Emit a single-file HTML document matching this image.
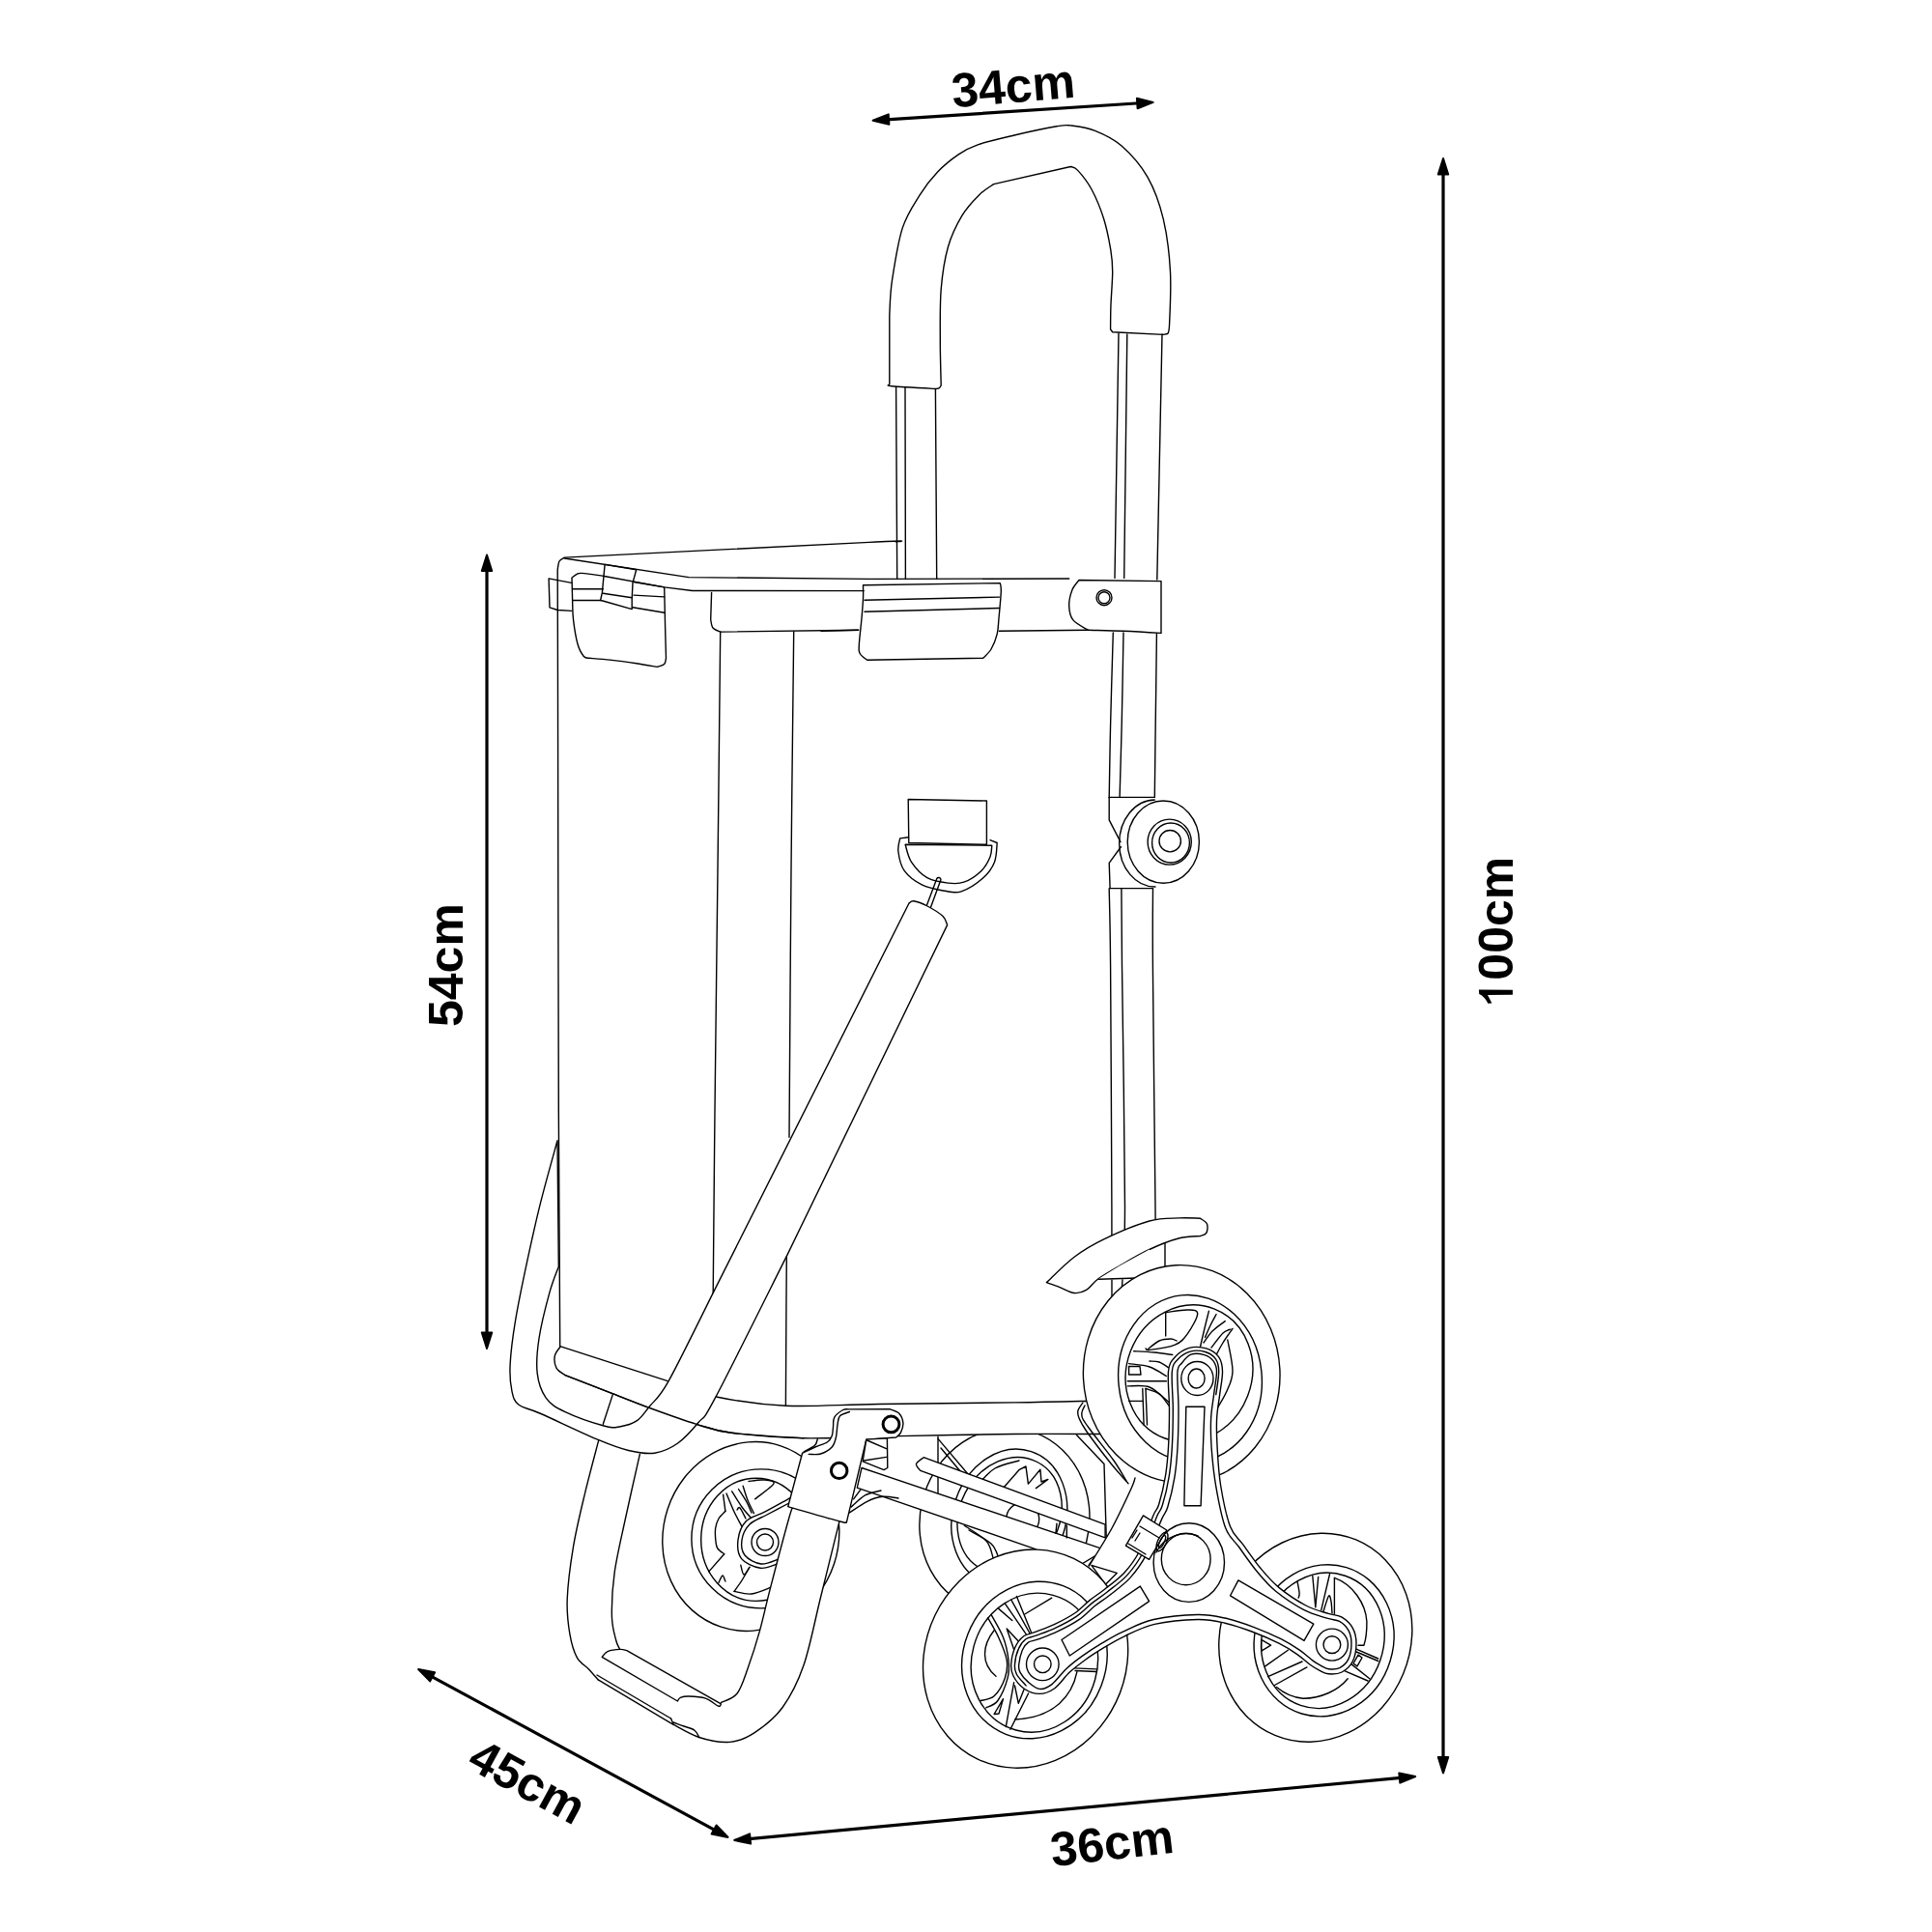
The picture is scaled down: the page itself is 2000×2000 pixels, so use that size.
<!DOCTYPE html>
<html><head><meta charset="utf-8"><style>
html,body{margin:0;padding:0;background:#fff;overflow:hidden;}
svg{display:block;}
text{font-family:"Liberation Sans",sans-serif;font-weight:bold;fill:#000;}
</style></head><body>
<svg width="2000" height="2000" viewBox="0 0 2000 2000" xmlns="http://www.w3.org/2000/svg">
<g stroke="#000" stroke-width="3.2" fill="none" stroke-linecap="round">
<line x1="913.6" y1="124.1" x2="1183.7" y2="106.5"/>
<line x1="1494.0" y1="174.0" x2="1494.0" y2="1825.4"/>
<line x1="504.0" y1="584.5" x2="504.0" y2="1386.0"/>
<line x1="441.9" y1="1732.8" x2="744.8" y2="1897.1"/>
<line x1="770.2" y1="1904.1" x2="1455.2" y2="1839.9"/>
</g>
<g fill="#000" stroke="#000" stroke-width="2" stroke-linejoin="round">
<path d="M903.6,124.7 L919.7,118.4 L920.4,128.8 Z"/><path d="M1193.7,105.9 L1177.6,112.2 L1176.9,101.8 Z"/>
<path d="M1494.0,164.0 L1499.2,180.5 L1488.8,180.5 Z"/><path d="M1494.0,1835.4 L1488.8,1818.9 L1499.2,1818.9 Z"/>
<path d="M504.0,574.5 L509.2,591.0 L498.8,591.0 Z"/><path d="M504.0,1396.0 L498.8,1379.5 L509.2,1379.5 Z"/>
<path d="M433.1,1728.0 L450.1,1731.3 L445.1,1740.4 Z"/><path d="M753.6,1901.9 L736.6,1898.6 L741.6,1889.5 Z"/>
<path d="M760.2,1905.0 L776.1,1898.3 L777.1,1908.6 Z"/><path d="M1465.2,1839.0 L1449.3,1845.7 L1448.3,1835.4 Z"/>
</g>

<text x="1049" y="106" font-size="50" text-anchor="middle" transform="rotate(-4.7 1049 90)">34cm</text>
<text x="1151" y="1925" font-size="50" text-anchor="middle" transform="rotate(-6.6 1151 1907)">36cm</text>
<text transform="translate(479.3,999.1) rotate(-90)" font-size="50" text-anchor="middle">54cm</text>
<text transform="translate(1565.9,964.6) rotate(-90)" x="77.8" font-size="50" text-anchor="end">00cm</text>
<path d="M1530.9,1024.5 L1565.9,1024.7 L1565.9,1029.7 L1540,1029.9 L1544.4,1038.5 L1540.3,1038.7 C1538.5,1034.5 1535,1030.5 1531.2,1028.9 Z" fill="#000" stroke="none"/>
<text transform="translate(546,1844.5) rotate(28.5)" font-size="50" text-anchor="middle" dy="17">45cm</text>

<g stroke="#000" stroke-width="1.4" fill="none" stroke-linejoin="round" stroke-linecap="round">
<path d="M920.8,398 L920.8,326.4 C921.2,320.4 921.2,305.3 923.5,290.2 C925.8,275.1 929.5,250.7 934.3,235.9 C939.1,221.1 946.5,211.1 952.5,201.4 C958.5,191.7 964,184.8 970.6,177.9 C977.2,171 985.4,164.5 992.3,159.8 C999.2,155.1 1002.6,153.1 1012.2,149.8 C1021.8,146.5 1036.4,143.2 1050,140 C1063.6,136.8 1084.1,132.5 1093.8,130.8 C1103.5,129.1 1101.7,129.2 1108.3,129.9 C1114.9,130.7 1124.8,131.8 1133.6,135.3 C1142.3,138.8 1151.7,142.7 1160.8,150.7 C1169.9,158.7 1180.8,170.6 1188,183.3 C1195.2,196 1200.4,210.5 1204.3,226.8 C1208.2,243.1 1210.5,263.1 1211.5,281.2 C1212.5,299.3 1211,324.8 1210.6,335.5 C1210.1,346.2 1209.1,343.8 1208.8,345.5 L1204.3,346.4 L1151.7,343.7 L1149.6,341 C1149.6,337.1 1149.6,327.4 1149.9,317.4 C1150.2,307.4 1151.7,290.9 1151.7,281.2 C1151.7,271.5 1151.4,268.5 1149.9,259.4 C1148.4,250.3 1146,237.4 1142.7,226.8 C1139.4,216.2 1134.5,204.4 1130,196 C1125.5,187.6 1119.1,180 1115.5,176.1 C1111.9,172.2 1109.5,173.1 1108.3,172.5 L1028.6,190.6 C1026.2,192.4 1019.5,196 1014,201.4 C1008.5,206.8 1001.3,214.1 995.9,223.2 C990.5,232.3 985,243.1 981.4,255.8 C977.8,268.5 975.6,283 974.2,299.3 C972.9,315.6 973.3,337 973.3,353.6 C973.3,370.2 974.1,391.3 974.2,398.9 C973.9,399.3 973.3,401 972.4,401.6 C971.5,402.2 969.4,402.4 968.8,402.5 C961.2,402.1 931.5,400.6 923.5,399.8 C915.5,399.1 921.2,398.3 920.8,398 Z"/>
<path d="M927.6,400.5 L928.7,599"/>
<path d="M937,400.7 L937.4,599"/>
<path d="M968.4,402.8 L969.7,599"/>
<path d="M1158,345 L1154,598.4"/>
<path d="M1166.8,346 L1163.7,598.4"/>
<path d="M1203,346 L1197.8,600"/>
<path d="M1152.3,655 C1151.8,670.8 1150.3,721.6 1149.6,750 C1148.9,778.4 1148.4,812.8 1148.2,825.4"/>
<path d="M1163,655 C1162.7,670.8 1161.9,721.6 1161.2,750 C1160.5,778.4 1159.4,812.8 1159.1,825.4"/>
<path d="M1197.4,656 C1197.2,671.7 1196.6,721.8 1196.2,750 C1195.8,778.2 1195.5,812.8 1195.3,825.4"/>
<path d="M927.6,560.8 C923,560.9 957.2,558.7 900,561.4 C842.8,564.1 637,574.5 584.4,577.1 C583.5,577.8 580.2,578.9 579,581 C577.8,583.1 577.5,588.5 577.2,590 C577.2,611.7 577.3,626.7 577.5,720 C577.7,813.3 577.9,1037.7 578.3,1150 C578.7,1262.3 579.5,1353.1 579.7,1393.7"/>
<path d="M584.4,578 L713,597.6 L900,599.4 L1106.7,599"/>
<path d="M656,602.5 L687.7,607.9 L716.7,611.5 L894.2,611.6"/>
<path d="M850,653.3 L888.3,652.3"/>
<path d="M745.7,654.1 L888.8,652.3"/>
<path d="M1034.3,653.3 L1126.4,652.3"/>
<path d="M736.6,613.4 L735.7,641.4 C736.1,642.8 736.3,647.9 738,650 C739.7,652.1 744.4,653.4 745.7,654.1"/>
<path d="M745.7,654.1 C745.2,695.1 744,817.4 743,900 C742,982.6 740.8,1076.6 740,1150 C739.2,1223.4 738.5,1308.5 738.2,1340.2"/>
<path d="M821.7,654 C821.2,695 819.8,812.8 819,900 C818.2,987.2 817.3,1131 817,1177.2"/>
<path d="M814.3,1300.4 C814.2,1313.7 813.9,1354.2 813.8,1380 C813.6,1405.8 813.5,1442.7 813.4,1455.2"/>
<path d="M591.7,603.4 L568.1,598.9 L569,628.8 L577.2,631.5 L591.7,632.4"/>
<path d="M624.3,596.2 C620.7,595.7 607,593.7 602.5,593.4 C598,593.1 598.9,593.5 597.1,594.3 C595.4,595.1 592.9,597.4 592,598 C592.1,601.9 592.4,614.3 592.6,621.5 C592.9,628.7 592.6,633.9 593.5,641.4 C594.4,648.9 596.2,660.4 598,666.8 C599.8,673.1 602.3,677.1 604.3,679.5 C606.3,681.9 608.9,681 609.8,681.3 C613.4,681.6 623.4,682.2 631.5,683.1 C639.6,684 650.6,685.5 658.7,686.7 C666.9,687.9 676.8,689.8 680.4,690.4 C681.6,689.9 686.2,689.1 687.7,687.6 C689.2,686.1 689.2,682.3 689.5,681.3 C689.4,675.9 688.9,660.9 688.6,648.7 C688.3,636.5 687.9,614.7 687.7,607.9 Z"/>
<path d="M592.6,609.7 L624.3,609.7"/>
<path d="M592.6,621.5 L621.6,621.5"/>
<path d="M656,616.1 L687.7,617.9"/>
<path d="M655,628.8 L687.7,634.2"/>
<path d="M626.1,584.4 L658.7,589.8 L655,603.4 L654.2,620 L654.2,630.6 L624,622 L621.6,621.5 L623.4,613.4 Z"/>
<path d="M624.3,614.3 L654.2,618.8"/>
<path d="M893.5,605.7 L1035.3,603.6 C1035.5,605 1036.5,605.9 1036.3,612 C1036.1,618.1 1034.7,632.6 1034,640 C1033.3,647.4 1033.5,651.1 1032.2,656.4 C1030.9,661.7 1028.4,667.9 1026,672 C1023.6,676.1 1019.1,679.8 1017.7,681.3 L897.6,683.3 C896.4,682.2 891.9,679.5 890.5,677 C889.1,674.5 889,674.2 889.3,668 C889.5,661.8 891.3,648 892,640 C892.7,632 893.2,625.7 893.5,620 C893.8,614.3 893.5,608.1 893.5,605.7 Z"/>
<path d="M895,621.2 L1034.5,618.1"/>
<path d="M895,633.2 L1034.5,629.5"/>
<path d="M1202,601.6 L1117,600.5 C1115.8,602.2 1111.5,606.4 1109.8,610.9 C1108.1,615.4 1106.5,622.2 1106.7,627.4 C1106.9,632.6 1107.6,637.8 1110.9,641.9 C1114.2,646 1123.8,650.6 1126.4,652.3 C1132.4,652.5 1150,652.8 1162.6,653.3 C1175.2,653.8 1195.4,655 1202,655.4 L1202,601.6"/>
<ellipse cx="1143" cy="618.7" rx="8" ry="8"/>
<ellipse cx="1143" cy="618.7" rx="6" ry="6"/>
<path d="M940.2,827.5 L1021.4,829 L1021.4,874.3 L940.8,872.5 Z"/>
<path d="M940.2,866.7 L931.7,867.9 C931.4,870.2 929.1,875.9 929.9,881.5 C930.6,887.1 932.1,895.7 936.2,901.4 C940.3,907.1 947.3,912.4 954.3,915.9 C961.2,919.4 971.1,921.1 977.9,922.3 C984.7,923.4 988.5,925.1 995.1,922.8 C1001.8,920.5 1012.1,913.8 1017.8,908.7 C1023.5,903.6 1027.1,898.4 1029.5,892.4 C1031.9,886.4 1031.8,875.8 1032.2,872.5 L1025,869.7"/>
<path d="M937.1,874.3 L1026.8,875.2 C1026.5,877.2 1026.8,882.6 1025,887 C1023.2,891.4 1020.4,897 1015.9,901.4 C1011.4,905.8 1003.5,911.1 997.8,913.2 C992.1,915.3 987.8,914.9 981.5,914.1 C975.2,913.4 966.1,912.3 959.8,908.7 C953.5,905.1 947.3,898.1 943.5,892.4 C939.7,886.7 938.2,877.3 937.1,874.3 Z"/>
<path d="M958.9,938.6 L969.8,909.5 A2.3,2.3 0 0 1 974,910.5 L963.4,939.5"/>
<path d="M1148.2,825.4 L1194.4,825.4"/>
<path d="M1148.2,825.4 L1148.2,848.9 L1160,871.6"/>
<path d="M1160.5,876.5 L1148.2,893.3 L1149.1,919.6"/>
<path d="M1149.1,919.6 L1193.5,919.6"/>
<ellipse cx="1204.3" cy="871.6" rx="37.1" ry="42.6"/>
<path d="M1195.3,828 A37,45 0 0 0 1196,918"/>
<ellipse cx="1210.7" cy="871.6" rx="22.6" ry="23.5"/>
<ellipse cx="1212" cy="872.5" rx="19.4" ry="20.5"/>
<ellipse cx="1211.2" cy="870.7" rx="11.2" ry="11.2"/>
<path d="M1148.2,919.6 C1148.4,933 1149.1,944.9 1149.6,1000 C1150,1055.1 1150.7,1191.7 1150.9,1250 C1151.1,1308.3 1151,1333.3 1151,1350"/>
<path d="M1160.9,919.6 C1161,933 1160.9,944.9 1161.5,1000 C1162.1,1055.1 1164.6,1193.3 1164.5,1250 C1164.4,1306.7 1161.6,1325 1161,1340"/>
<path d="M1193.5,919.6 C1193.5,933 1193,944.9 1193.4,1000 C1193.8,1055.1 1195.6,1206.3 1196,1250 C1196.4,1293.7 1196,1260 1196,1262"/>
<path d="M1206,1280 L1206,1315"/>
<path d="M1083.4,1327.6 C1088.2,1323.2 1102.1,1308.7 1112.1,1301.2 C1122.1,1293.7 1130.2,1288.8 1143.2,1282.6 C1156.2,1276.4 1176.9,1267.6 1189.8,1264 C1202.7,1260.4 1212,1261.4 1220.8,1260.9 C1229.6,1260.4 1238.9,1261.2 1242.5,1261.2 C1243.7,1262.2 1248.5,1264.6 1249.5,1267.1 C1250.5,1269.6 1250,1274.3 1248.8,1276.4 C1247.6,1278.5 1243.5,1279 1242.5,1279.5 C1238.9,1279.9 1229.6,1279.5 1220.8,1281.8 C1212,1284.1 1200.1,1288.7 1189.8,1293.5 C1179.5,1298.3 1167.5,1305.5 1158.7,1310.6 C1149.9,1315.6 1142.7,1319.7 1137,1323.8 C1131.3,1327.9 1128.7,1333 1124.5,1335.4 C1120.3,1337.9 1116.8,1339 1112.1,1338.5 C1107.4,1338 1101.4,1334.1 1096.6,1332.3 C1091.8,1330.5 1085.6,1328.4 1083.4,1327.6 Z" fill="#fff"/>
<path d="M1137,1324 L1158.7,1310.6 L1189.8,1293.5 L1205,1323 L1137,1325 Z" fill="#fff" stroke="none"/>
<path d="M1137.5,1324.3 L1177.6,1323"/>
<ellipse cx="1039.9" cy="1574.3" rx="87.5" ry="96.6" transform="rotate(14 1039.9 1574.3)" fill="#fff"/>
<ellipse cx="1044.8" cy="1570.9" rx="58.4" ry="72" transform="rotate(18.4 1044.8 1570.9)"/>
<ellipse cx="1045.1" cy="1568.9" rx="51.6" ry="62.4" transform="rotate(27.4 1045.1 1568.9)"/>
<ellipse cx="1058.7" cy="1572.5" rx="17" ry="17"/>
<path d="M1039.3,1539.5 L1055.3,1521.3 L1062,1518 L1064.4,1536.1 L1076.9,1521.3 L1078,1534 L1084.9,1531.5 L1072.4,1540.6"/>
<path d="M1012,1537 C1015,1534.2 1022.8,1524.2 1030,1520 C1037.2,1515.8 1050.8,1513.3 1055,1512"/>
<path d="M998.3,1579.3 C1002.1,1582 1016.1,1589.8 1021.1,1595.3 C1026,1600.8 1026.8,1609.6 1028,1612.4"/>
<path d="M1003,1584 C1006.8,1586.3 1020.8,1593.2 1026,1598 C1031.2,1602.8 1032.7,1610.5 1034,1613"/>
<path d="M971,1487.1 L971,1545.2"/>
<path d="M971,1489.4 L1002.9,1527"/>
<path d="M974,1499 L994,1523"/>
<path d="M1114.5,1485.4 L1143,1515.6 L1145.3,1594.1 L1138.4,1604.4 L1127,1620.3"/>
<ellipse cx="777.3" cy="1590.5" rx="90.7" ry="98.7" transform="rotate(18.3 777.3 1590.5)" fill="#fff"/>
<ellipse cx="787.9" cy="1592.9" rx="72" ry="72"/>
<ellipse cx="782.8" cy="1593.8" rx="57.1" ry="63.6"/>
<path d="M748.6,1547.2 L750.9,1564.3"/>
<path d="M750.9,1564.3 C749.8,1565.6 745.7,1569 744,1572 C742.3,1575 741.1,1578.5 740.6,1582.5 C740.1,1586.5 740.6,1592.6 741,1596 C741.4,1599.4 741.4,1600.9 742.9,1603 C744.4,1605.1 748.6,1607.8 749.7,1608.7"/>
<path d="M749.7,1608.7 L733.8,1626.9"/>
<path d="M752,1546.1 C753.3,1549.2 757.3,1559.3 760,1565 C762.7,1570.7 766.7,1577.7 768,1580.2"/>
<path d="M757.7,1543.8 C759.4,1546.5 764.8,1555.5 768,1560 C771.2,1564.5 775.6,1569.2 777.1,1571.1"/>
<path d="M764.5,1541.5 C765.9,1543.8 770.8,1550.9 773,1555 C775.2,1559.1 777.2,1564.2 778,1566"/>
<path d="M769.1,1538.1 C769.9,1540.6 772.1,1548.2 774,1553 C775.9,1557.8 779.4,1564.3 780.5,1566.6"/>
<path d="M775,1533.5 C777.5,1533.2 785.7,1531.6 790,1532 C794.3,1532.4 802.4,1532.5 801,1535.8 C799.6,1539.1 784.8,1549.1 781.6,1551.8"/>
<path d="M763,1563 C763.5,1562.7 764.5,1559.5 766,1561 C767.5,1562.5 771,1570.2 772,1572"/>
<path d="M766.8,1620.1 C767.3,1621.8 768.5,1629.6 770,1630 C771.5,1630.4 774.9,1623.7 775.9,1622.4"/>
<path d="M775.9,1622.4 C774.6,1624.7 770.6,1631.8 768,1636 C765.4,1640.2 761.3,1645.5 760,1647.4"/>
<path d="M760,1647.4 C763,1647.8 771.5,1650.8 778,1650 C784.5,1649.2 795.2,1644.1 798.7,1642.9"/>
<path d="M744,1638.3 C744.7,1637.1 746.9,1631.2 748,1631 C749.1,1630.8 750.4,1636 750.9,1637"/>
<path d="M818.7,1550.3 C814.2,1552.7 799.7,1560.9 792,1564.9 C784.3,1569 777.2,1569.7 772.5,1574.6 C767.8,1579.5 764.8,1587.6 764,1594.1 C763.2,1600.6 763.8,1608.7 767.6,1613.6 C771.5,1618.5 780.6,1622.5 787.1,1623.3 C793.6,1624.1 799.5,1620.6 806.6,1618.4 C813.8,1616.2 825.3,1621.4 830,1610 C834.7,1598.6 834.2,1560 835,1550" fill="#fff"/>
<path d="M818.7,1555 C814.6,1557.2 801.1,1564.2 794,1568 C786.9,1571.8 780.3,1573.7 776,1578 C771.7,1582.3 768.8,1588.7 768,1594 C767.2,1599.3 767.7,1605.8 771,1610 C774.3,1614.2 782.2,1618.3 788,1619 C793.8,1619.7 803,1614.8 806,1614"/>
<ellipse cx="792" cy="1596.5" rx="14" ry="14"/>
<ellipse cx="792" cy="1596.5" rx="8.5" ry="8.5"/>
<path d="M579.7,1393.7 C598.4,1399.7 664.8,1421.2 692,1429.9 C719.2,1438.7 722.6,1442 742.8,1446.2 C763,1450.4 785.5,1454 813.4,1455.2 C841.3,1456.4 870.6,1454 910,1453.5 C949.4,1453 1013.8,1452.4 1050,1451.9 C1086.2,1451.4 1114.2,1450.6 1127,1450.3 L1140,1484.5 C1125,1484.5 1084.9,1484.2 1050,1484.5 C1015.1,1484.8 967.1,1485.9 930.7,1486.6 C894.3,1487.3 860.6,1489.3 831.7,1488.8 C802.8,1488.2 775.7,1485.7 757.2,1483.3 C738.8,1480.9 734.9,1478.5 721,1474.3 C707.1,1470.1 688.4,1463.3 673.9,1458 C659.4,1452.7 648.8,1448.3 634,1442.6 C619.2,1436.9 593.2,1426.8 585.1,1423.6 C583.6,1422.4 577.9,1419.6 576.1,1416.3 C574.3,1413 573.7,1407.2 574.3,1403.6 C574.9,1400 578.8,1396.1 579.7,1394.6 Z" fill="#fff"/>
<path d="M956.2,1508.7 L1144.1,1578.2 L1144.1,1591.9 L952.8,1522.4 C952.1,1521.2 947.9,1517.8 948.5,1515.5 C949.1,1513.2 954.9,1509.8 956.2,1508.7 Z" fill="#fff"/>
<path d="M892,1519.5 L1144.1,1604.4 L1110,1625 L1071.2,1603.3 L887.3,1540.2 Z" fill="#fff"/>
<path d="M1094,1577.1 L1092.9,1587.3"/>
<path d="M1104.3,1579.3 L1104.3,1591.9"/>
<path d="M619.8,1490.7 L605.3,1546.8 L593.5,1601.2 L587.2,1655.5 L589.9,1691.7 L597.3,1715.8 L609.5,1727.9 L619.2,1738.9 L694.6,1783.9 L723.8,1798.5 L755.5,1803.4 L781.2,1793.6 L810.1,1767.5 L831.9,1724.1 L849.3,1654.5 L868.7,1575.8 L821.0,1561.0 L817.2,1570.0 L797.3,1644.6 L786.5,1688.1 L773.8,1728.0 L762.9,1753.3 L746.6,1762.4 L649.3,1708.8 L641.3,1706.7 L637.7,1698.0 L633.3,1669.0 L634.8,1640.0 L647.0,1574.0 L662.4,1505.1 Z" fill="#fff" stroke="none"/>
<path d="M619.8,1490.7 C617.4,1500 609.7,1528.4 605.3,1546.8 C600.9,1565.2 596.5,1583.1 593.5,1601.2 C590.5,1619.3 587.8,1640.4 587.2,1655.5 C586.6,1670.6 588.2,1681.7 589.9,1691.7 C591.6,1701.8 594,1709.8 597.3,1715.8 C600.6,1721.8 605.9,1724.1 609.5,1727.9 C613.1,1731.8 617.6,1737.1 619.2,1738.9"/>
<path d="M619.2,1738.9 L694.6,1783.9 C699.5,1786.3 713.6,1795.2 723.8,1798.5 C733.9,1801.8 745.9,1804.2 755.5,1803.4 C765.1,1802.6 772.1,1799.6 781.2,1793.6 C790.3,1787.6 801.7,1779.1 810.1,1767.5 C818.5,1755.9 825.4,1742.9 831.9,1724.1 C838.4,1705.3 843.2,1679.2 849.3,1654.5 C855.4,1629.8 865.5,1588.9 868.7,1575.8"/>
<path d="M662.4,1505.1 C659.8,1516.6 651.4,1553.5 647,1574 C642.6,1594.5 638.4,1611.7 636.1,1628.3 C633.8,1644.9 633.1,1662 633.4,1673.6 C633.7,1685.2 636.4,1692.5 637.7,1698 C639,1703.5 640.7,1705.2 641.3,1706.7"/>
<path d="M821,1561 C820.4,1562.5 821.2,1556.1 817.2,1570 C813.2,1583.9 802.4,1624.9 797.3,1644.6 C792.2,1664.3 790.4,1674.2 786.5,1688.1 C782.6,1702 777.7,1717.1 773.8,1728 C769.9,1738.9 767.4,1747.6 762.9,1753.3 C758.4,1759 749.3,1760.9 746.6,1762.4"/>
<path d="M830.6,1504.2 C832.8,1503.2 839.5,1499.9 843.8,1498 C848.1,1496.1 853.4,1494.9 856.3,1493 C859.2,1491.1 860.2,1489 861.2,1486.4 C862.2,1483.8 862.1,1480.5 862.5,1477.3 C862.9,1474.1 862,1470.3 863.7,1467.3 C865.4,1464.3 870.2,1460.9 872.8,1459.5 C875.4,1458.1 878.3,1459 879.4,1458.9 L920.8,1458.6 C922.5,1459.4 928.4,1460.8 930.8,1463.2 C933.1,1465.6 934.6,1469.8 934.9,1473.1 C935.2,1476.4 933.6,1480.6 932.4,1483.1 C931.2,1485.6 928.3,1487.2 927.5,1488 L896.8,1490.1 L876.5,1575.4 C875.3,1575.3 879.6,1577.6 869.5,1575 C859.4,1572.4 824.7,1562.2 815.7,1559.7 L830.6,1504.2 Z" fill="#fff"/>
<path d="M837.2,1505.4 C839.3,1505.3 845.6,1506.2 849.6,1505 C853.6,1503.8 858.6,1500.8 861.2,1498 C863.8,1495.2 864.4,1491.9 865.4,1488 C866.4,1484.1 866.3,1478.5 867,1474.8 C867.7,1471.1 867.4,1467.9 869.5,1465.7 C871.6,1463.5 877.8,1462.2 879.4,1461.5"/>
<path d="M846.3,1489.7 C845.8,1490.8 845.8,1494.1 843.4,1496.3 C841,1498.5 834.1,1501.8 832.2,1502.9"/>
<circle cx="922.5" cy="1474.4" r="8.4" stroke-width="3"/>
<circle cx="868.7" cy="1522.4" r="8.2" stroke-width="3"/>
<path d="M896.8,1490.1 L918.4,1488.9 L918.8,1519.5 L915,1521.6 L893.1,1512.9 Z" fill="#fff"/>
<path d="M897.5,1491 L917.5,1499.7"/>
<path d="M894.3,1512 L917.5,1508.4"/>
<path d="M879.4,1565.9 C882.5,1564 891.9,1557.1 897.7,1554.3 C903.5,1551.5 908.8,1549.8 914.2,1549.3 C919.6,1548.8 927.4,1550.7 930,1551"/>
<path d="M881.1,1560.1 C883.6,1558 890.9,1550.5 896,1547.7 C901.1,1544.9 909.3,1543.8 912,1543"/>
<path d="M883.6,1551.8 L891,1541.9"/>
<path d="M623.2,1715.4 C624.2,1714.4 625.9,1710.9 629,1709.6 C632.1,1708.3 638.6,1707.5 642,1707.4 C645.4,1707.3 648.1,1708.6 649.3,1708.8 L746.4,1763.9 C745.9,1764.3 746.2,1767.1 743.5,1766.1 C740.8,1765.1 735.5,1759.8 730.4,1758.1 C725.3,1756.4 717.4,1756.1 713,1756 C708.6,1755.9 706.2,1756.6 704.3,1757.4 C702.4,1758.2 701.9,1760.4 701.4,1761 L623.2,1715.4 Z"/>
<path d="M618,1734 L694.6,1779"/>
<path d="M694.6,1779 L697,1785"/>
<path d="M697,1783 C698.8,1783.7 704.3,1785.6 708,1787 C711.7,1788.4 716.4,1789.3 719,1791.2 C721.6,1793.1 723,1797.3 723.8,1798.5"/>
<path d="M738.2,1338.4 L941,935 C941.8,934.6 942.8,932.3 946,932.8 C949.2,933.3 955,935.4 960,938 C965,940.6 972.7,945.3 976.1,948.6 C979.5,951.9 979.9,956.1 980.6,957.6 L815.2,1298.6 C802.8,1323.2 756.3,1417.2 740.9,1446.2 C725.5,1475.2 729.6,1464.5 723,1472.5 C716.4,1480.5 708.8,1489 701.3,1494.3 C693.8,1499.6 686.2,1503 677.8,1504.2 C669.3,1505.4 660.3,1503.8 650.6,1501.5 C640.9,1499.2 634.9,1497 619.8,1490.7 C604.7,1484.4 573.8,1469.6 560,1463.5 C546.2,1457.4 542.1,1458.2 537.1,1454.3 C532.1,1450.4 531.4,1446.8 529.9,1439.9 C528.4,1433 527.5,1424.8 528.1,1412.7 C528.7,1400.6 530.6,1384.9 533.5,1367.4 C536.4,1349.9 540.9,1328.1 545.3,1307.6 C549.7,1287.1 554.5,1265.3 559.8,1244.2 C565.1,1223.1 574.1,1191.4 577,1180.8 L578.3,1311.2 C576.7,1315.7 572.2,1326 568.8,1338.4 C565.4,1350.8 560.1,1371.6 558,1385.5 C555.9,1399.4 555,1411.4 556.2,1421.7 C557.4,1432 560.4,1440.4 565.2,1447.1 C570,1453.8 575.1,1456.8 585.1,1461.6 C595.1,1466.4 615.6,1473.4 625,1476 C634.4,1478.6 635.6,1477.9 641.3,1477 C647,1476.1 654.3,1474.2 659.4,1470.7 C664.5,1467.2 666.7,1463 672.1,1456.2 C677.5,1449.4 681,1449.5 692,1429.9 C703,1410.3 730.5,1353.7 738.2,1338.4 Z" fill="#fff"/>
<path d="M585.1,1423.6 C593.2,1426.8 619.2,1436.9 634,1442.6 C648.8,1448.3 659.4,1452.7 673.9,1458 C688.4,1463.3 707.1,1470.1 721,1474.3 C734.9,1478.5 738.8,1480.9 757.2,1483.3 C775.7,1485.7 819.3,1487.9 831.7,1488.8"/>
<path d="M634.3,1443.6 L624.3,1474.3"/>
<ellipse cx="1223.2" cy="1422.4" rx="101.8" ry="112.8" transform="rotate(-3 1223.2 1422.4)" fill="#fff"/>
<ellipse cx="1232" cy="1426.9" rx="74.2" ry="86.5" transform="rotate(-6 1232 1426.9)"/>
<ellipse cx="1231" cy="1421.8" rx="64.9" ry="71.7" transform="rotate(21 1231 1421.8)"/>
<path d="M1270.8,1387 C1271.7,1392.4 1276.1,1410.6 1276,1419.4 C1275.9,1428.2 1272.8,1433.3 1270,1440 C1267.2,1446.7 1260.9,1456.2 1259.1,1459.5"/>
<path d="M1206.7,1359 L1206.7,1383.1"/>
<path d="M1207,1358.6 C1210.7,1358.2 1224,1355.8 1229.4,1356 C1234.9,1356.2 1239.7,1355.8 1239.7,1359.9 C1239.7,1364 1233.3,1375.2 1229.4,1380.6 C1225.5,1386 1222.9,1389.4 1216.4,1392.2 C1209.9,1395 1195.7,1396.8 1190.6,1397.4 C1185.5,1398 1186.8,1396.2 1186,1396"/>
<path d="M1188,1397 C1190,1395.5 1196,1389.8 1200,1388 C1204,1386.2 1209,1386 1212,1386 C1215,1386 1217,1387.7 1218,1388"/>
<path d="M1242.3,1395 C1243.1,1391.7 1245.5,1381.3 1247,1375 C1248.5,1368.7 1250.7,1360.2 1251.4,1357.3"/>
<path d="M1259.1,1360.5 C1258.1,1362.4 1254.9,1368 1253,1372 C1251.1,1376 1248.4,1382.3 1247.5,1384.4"/>
<path d="M1268.2,1367.6 C1266,1369.3 1258.7,1374.3 1255,1378 C1251.3,1381.7 1247.5,1388 1246,1390"/>
<path d="M1276,1375.4 C1274.3,1377.8 1268.8,1385.5 1266,1390 C1263.2,1394.5 1260.2,1400.4 1259.1,1402.5"/>
<path d="M1254,1395 C1256,1392.5 1262.7,1383.2 1266,1380 C1269.3,1376.8 1272.7,1376.7 1274,1376"/>
<path d="M1173.7,1398.7 C1177.2,1398.9 1188.3,1399.4 1195,1400 C1201.7,1400.6 1210.7,1402.1 1213.8,1402.5"/>
<path d="M1168.6,1411.6 C1172.2,1412.2 1183.5,1412.8 1190,1415 C1196.5,1417.2 1204.5,1422.9 1207.4,1424.5"/>
<path d="M1190,1409 C1191.7,1409.2 1196.7,1408.8 1200,1410 C1203.3,1411.2 1208.3,1415 1210,1416"/>
<path d="M1167.3,1429.7 L1207.4,1429.7"/>
<path d="M1167.3,1434.9 C1171.1,1435.1 1182.9,1433.2 1190,1436 C1197.1,1438.8 1206.7,1449.1 1210,1451.7"/>
<path d="M1168.6,1414.5 L1180,1414.5 L1181,1423 L1168.6,1423 Z"/>
<path d="M1168.6,1450.4 L1183,1450.4"/>
<path d="M1182.8,1437.5 L1184.1,1475"/>
<path d="M1186,1437.5 L1187.5,1475"/>
<path d="M1186,1437.5 C1188.3,1438.4 1196,1440.1 1200,1443 C1204,1445.9 1208.3,1453 1210,1455"/>
<path d="M1121,1452 C1120.2,1453.3 1116.7,1457.3 1116,1460 C1115.3,1462.7 1115.5,1464.3 1117,1468 C1118.5,1471.7 1119.5,1474.2 1125,1482 C1130.5,1489.8 1142.8,1506 1150,1515 C1157.2,1524 1165,1532.2 1168,1535.7"/>
<path d="M1123,1455 C1122.5,1456.2 1120.3,1459.7 1120,1462 C1119.7,1464.3 1119.3,1465.7 1121,1469 C1122.7,1472.3 1124.7,1474.8 1130,1482 C1135.3,1489.2 1147,1503.5 1153,1512 C1159,1520.5 1163.8,1529.5 1166,1533"/>
<path d="M1172,1538 L1171,1541 L1151,1582 L1127.2,1621.2 L1110,1640 L1143.5,1645.2 L1164,1628 L1180,1605 L1193.8,1569 L1199.7,1557.2 L1202,1538 Z" fill="#fff" stroke="none"/>
<path d="M1175,1530 C1174.3,1531.8 1175,1532.3 1171,1541 C1167,1549.7 1158.3,1568.6 1151,1582 C1143.7,1595.4 1131.2,1614.7 1127.2,1621.2"/>
<path d="M1129.9,1620.3 L1156.2,1628.4 L1144.4,1640.2 Z"/>
<ellipse cx="1061.6" cy="1717.1" rx="103.9" ry="115.1" transform="rotate(25.7 1061.6 1717.1)" fill="#fff"/>
<ellipse cx="1070.9" cy="1718.5" rx="74" ry="82.3" transform="rotate(21.1 1070.9 1718.5)"/>
<ellipse cx="1070.9" cy="1721.2" rx="65.1" ry="72.4" transform="rotate(15.4 1070.9 1721.2)"/>
<path d="M1029.1,1687.8 C1017,1703 1015,1722 1031,1735.3"/>
<path d="M1114.9,1730.7 C1110,1755 1092,1778 1050.6,1780"/>
<path d="M1060.8,1671 L1088.8,1654.2"/>
<path d="M1022.6,1674.7 C1024.5,1678.1 1030.5,1687.9 1033.8,1695.2 C1037.1,1702.5 1041.1,1711.5 1042.2,1718.5 C1043.3,1725.5 1042.5,1731 1040.3,1737.2 C1038.1,1743.4 1033.3,1751.9 1029.1,1755.8 C1024.9,1759.7 1017.5,1759.7 1015.2,1760.5"/>
<path d="M1026.3,1671.9 C1028.3,1675.8 1035.5,1687.2 1038.5,1695 C1041.5,1702.8 1043.2,1711.5 1044,1718.5 C1044.8,1725.5 1044.9,1730.2 1043.1,1737.2 C1041.2,1744.2 1036.6,1755.4 1032.9,1760.5 C1029.2,1765.6 1022.8,1766.7 1020.8,1767.9"/>
<path d="M1033.8,1665.4 L1047.8,1677.5"/>
<path d="M1040.3,1659.8 L1062.7,1692.4"/>
<path d="M1046.8,1656.1 L1066.4,1691.5"/>
<path d="M1052.4,1652.4 L1067.4,1689.6"/>
<path d="M1055.2,1699.9 L1042.2,1685.9 L1049.6,1707.4"/>
<path d="M1049.6,1741.8 L1041.3,1787.5"/>
<path d="M1064.6,1753 L1045.9,1790.3"/>
<path d="M1050.5,1745 L1054.3,1763.3 L1060,1749"/>
<path d="M1038.5,1758.6 L1029.1,1774.5 L1034,1774 Z"/>
<path d="M1112.1,1726.9 L1135.4,1727.9"/>
<path d="M1113,1729.5 L1135,1730.5"/>
<ellipse cx="1361.8" cy="1695.2" rx="98.3" ry="109.6" transform="rotate(22.5 1361.8 1695.2)" fill="#fff"/>
<ellipse cx="1370.6" cy="1698.3" rx="71.7" ry="79.2" transform="rotate(17 1370.6 1698.3)"/>
<ellipse cx="1369.4" cy="1698.3" rx="62.8" ry="70.9" transform="rotate(19 1369.4 1698.3)"/>
<path d="M1381.4,1633.4 L1381.4,1670.8"/>
<path d="M1381.4,1633.4 C1400,1640 1414,1660 1414.9,1678.7 C1415,1690 1413,1700 1411.9,1703.2 L1406,1703.2"/>
<path d="M1395.2,1737.7 C1385,1750 1368,1758 1349,1758.3 C1337,1757 1328,1752 1321.5,1746.5"/>
<path d="M1404.1,1707.2 L1426.7,1717"/>
<path d="M1404.1,1710 L1426.7,1719.5"/>
<path d="M1399.1,1722.9 L1417.8,1737.7"/>
<path d="M1392.3,1729.8 L1416,1740"/>
<path d="M1406,1713.1 L1410,1716 L1405,1724.9 L1401,1722 Z"/>
<path d="M1309.7,1724.9 L1333.3,1708.2"/>
<path d="M1312.6,1735.7 L1348,1720"/>
<path d="M1319.5,1744.5 L1352.9,1725.9"/>
<path d="M1305.7,1697.3 L1315.6,1703.2 L1305.7,1709.1 Z"/>
<path d="M1343.1,1637.4 C1343.4,1639.4 1344.9,1646.4 1345.1,1649.2 C1345.3,1652 1344.3,1653.3 1344.1,1654.1"/>
<path d="M1358.8,1631.5 L1361.8,1663.9 L1364.7,1632.4"/>
<path d="M1376.5,1629.5 L1367.7,1666.9"/>
<path d="M1370,1668 C1370.9,1665.3 1374.2,1653.8 1375.5,1652.1 C1376.8,1650.4 1377.4,1655 1378,1658 C1378.6,1661 1378.8,1668 1379,1670"/>
<path d="M1231.1,1395.4 C1236.5,1393.9 1243.7,1394.4 1248.8,1395.9 C1253.9,1397.5 1258.8,1400.8 1261.6,1404.7 C1264.4,1408.6 1265.3,1412.9 1265.5,1419.5 C1265.7,1426.1 1263.6,1435.9 1262.6,1444.1 C1261.6,1452.3 1260,1459.7 1259.6,1468.7 C1259.2,1477.7 1259.4,1486.7 1260.1,1498.2 C1260.8,1509.7 1261.4,1523.9 1263.6,1537.5 C1265.8,1551.1 1269.6,1569.8 1273.4,1580 C1277.2,1590.2 1281.3,1591.3 1286.6,1598.6 C1291.9,1605.9 1299,1616.3 1305.2,1623.8 C1311.4,1631.3 1316.1,1637 1323.9,1643.4 C1331.7,1649.8 1343.3,1657.5 1351.8,1662 C1360.3,1666.5 1368.9,1668.4 1375.1,1670.4 C1381.3,1672.4 1384.9,1671.6 1389.1,1674.1 C1393.3,1676.6 1397.8,1680.8 1400.3,1685.3 C1402.8,1689.8 1404,1695.5 1404,1701.2 C1404,1707 1402.8,1714.8 1400.3,1719.8 C1397.8,1724.8 1393.3,1728.8 1389.1,1731 C1384.9,1733.2 1379,1733.1 1375.1,1732.8 C1371.2,1732.5 1368.9,1730.6 1365.8,1729.1 C1362.7,1727.5 1360.4,1726.3 1356.5,1723.5 C1352.6,1720.7 1347.9,1716 1342.5,1712.3 C1337.1,1708.6 1331.7,1705.1 1323.9,1701.2 C1316.1,1697.3 1305.2,1692.5 1295.9,1689 C1286.6,1685.5 1277.3,1682.3 1268,1680.2 C1258.7,1678.1 1252.1,1676.3 1240,1676.5 C1227.9,1676.7 1207.9,1678.5 1195.3,1681.4 C1182.7,1684.3 1172.8,1689.8 1164.2,1693.8 C1155.6,1697.8 1150.4,1701 1143.5,1705.2 C1136.6,1709.4 1128.8,1714.4 1122.8,1718.7 C1116.8,1723 1112.5,1726.3 1107.3,1731.1 C1102.1,1735.9 1097,1744 1091.8,1747.7 C1086.6,1751.4 1081.5,1753.4 1076.2,1753.4 C1070.9,1753.5 1064.5,1751.1 1060,1748 C1055.5,1744.9 1051.2,1739.2 1049,1735 C1046.8,1730.8 1046.4,1727.8 1046.7,1722.8 C1047,1717.8 1048.8,1709.8 1051,1705 C1053.2,1700.2 1056.4,1696.3 1059.7,1693.8 C1063,1691.2 1065.8,1691.8 1071.1,1689.7 C1076.4,1687.6 1084.9,1684.7 1091.8,1681.4 C1098.7,1678.1 1106.5,1674.1 1112.5,1670 C1118.5,1665.9 1122.8,1660.7 1128,1656.6 C1133.2,1652.5 1137.5,1650 1143.5,1645.2 C1149.5,1640.4 1157.9,1634.7 1164,1628 C1170.1,1621.3 1175,1614.8 1180,1605 C1185,1595.2 1190.5,1577 1193.8,1569 C1197.1,1561 1197.6,1564.1 1199.7,1557.2 C1201.8,1550.3 1204.9,1537.5 1206.5,1527.7 C1208.1,1517.9 1208.8,1509.7 1209.5,1498.2 C1210.2,1486.7 1210.5,1471.9 1210.5,1458.8 C1210.5,1445.7 1208.5,1428.5 1209.5,1419.5 C1210.5,1410.5 1212.8,1408.7 1216.4,1404.7 C1220,1400.7 1225.7,1396.9 1231.1,1395.4 Z" fill="#fff"/>
<path d="M1232.9,1402.2 C1236.8,1400.7 1242.9,1401.5 1246.8,1402.6 C1250.6,1403.7 1253.8,1405.9 1255.9,1408.7 C1258,1411.6 1259.4,1413.9 1259.5,1419.7 C1259.6,1425.4 1257.6,1435.3 1256.6,1443.4 C1255.7,1451.5 1254,1459.2 1253.6,1468.4 C1253.2,1477.6 1253.3,1486.9 1254.1,1498.5 C1255,1510.2 1256.2,1524.4 1258.7,1538.3 C1261.1,1552.2 1264.7,1571.2 1268.7,1581.8 C1272.7,1592.3 1277.1,1594 1282.6,1601.5 C1288,1609.1 1295,1619.4 1301.4,1627 C1307.7,1634.6 1312.7,1640.7 1320.7,1647.3 C1328.7,1653.8 1340.7,1661.8 1349.5,1666.4 C1358.3,1671.1 1367.4,1673.2 1373.6,1675.2 C1379.7,1677.2 1382.8,1676.3 1386.6,1678.4 C1390.3,1680.5 1393.8,1683.9 1395.9,1687.7 C1398,1691.5 1399,1696.2 1399,1701.2 C1399,1706.2 1397.9,1713.3 1395.8,1717.6 C1393.8,1721.8 1390.2,1724.8 1386.8,1726.6 C1383.4,1728.3 1378.6,1728.1 1375.5,1727.8 C1372.4,1727.5 1370.7,1726 1368,1724.6 C1365.4,1723.2 1363.2,1722.2 1359.4,1719.4 C1355.6,1716.7 1350.9,1712 1345.3,1708.2 C1339.8,1704.4 1334.1,1700.7 1326.1,1696.7 C1318.2,1692.8 1307.2,1687.9 1297.7,1684.3 C1288.2,1680.8 1278.7,1677.5 1269.1,1675.3 C1259.5,1673.2 1252.4,1671.3 1239.9,1671.5 C1227.4,1671.7 1207.2,1673.6 1194.2,1676.5 C1181.2,1679.5 1171,1685.2 1162.1,1689.3 C1153.2,1693.3 1148,1696.7 1140.9,1700.9 C1133.9,1705.1 1126.1,1710.2 1119.9,1714.6 C1113.7,1719.1 1109.1,1722.6 1103.9,1727.4 C1098.7,1732.3 1093.5,1740.1 1088.9,1743.6 C1084.3,1747.1 1080.2,1748.8 1076.2,1748.4 C1072.1,1748 1067.8,1744.2 1064.5,1741.4 C1061.1,1738.5 1057.7,1734.3 1056.1,1731.3 C1054.4,1728.3 1054.3,1727.2 1054.7,1723.3 C1055.1,1719.5 1056.7,1712.1 1058.3,1708.3 C1059.9,1704.4 1061.9,1702 1064.5,1700.2 C1067.2,1698.3 1068.9,1699.1 1074,1697.2 C1079.1,1695.2 1088.1,1692.1 1095.2,1688.6 C1102.4,1685.2 1110.7,1680.9 1117,1676.6 C1123.3,1672.3 1127.8,1667 1133,1662.8 C1138.2,1658.7 1142.3,1656.4 1148.5,1651.5 C1154.6,1646.6 1163.5,1640.5 1169.9,1633.4 C1176.4,1626.2 1181.7,1618.7 1187.1,1608.6 C1192.6,1598.5 1199,1580.7 1202.6,1572.6 C1206.2,1564.5 1206.6,1567.2 1208.8,1560 C1211,1552.8 1214.2,1539.5 1215.9,1529.3 C1217.6,1519 1218.3,1510.5 1219,1498.8 C1219.7,1487 1220,1471.8 1220,1458.8 C1220,1445.8 1218.4,1428.5 1218.9,1420.5 C1219.5,1412.6 1221.1,1414.1 1223.5,1411 C1225.8,1408 1229.1,1403.6 1232.9,1402.2 Z"/>
<path d="M1062.1,1744.9 C1060.5,1742.9 1054.3,1736.9 1052.4,1733.2 C1050.4,1729.6 1050.1,1727.5 1050.5,1723.1 C1050.8,1718.6 1052.5,1710.9 1054.5,1706.6 C1056.4,1702.2 1059,1699 1062,1696.8 C1065,1694.6 1067.2,1695.2 1072.5,1693.2 C1077.7,1691.2 1086.4,1688.2 1093.4,1684.8 C1100.5,1681.5 1108.5,1677.3 1114.6,1673.1 C1120.8,1668.9 1125.2,1663.7 1130.4,1659.6 C1135.6,1655.4 1139.8,1653 1145.9,1648.2 C1151.9,1643.3 1160.6,1637.5 1166.8,1630.6 C1173.1,1623.6 1178.3,1616.7 1183.4,1606.7 C1188.5,1596.7 1194,1578.5 1197.3,1570.4 C1200.6,1562.4 1201.2,1565.3 1203.3,1558.3 C1205.5,1551.3 1208.6,1538.3 1210.2,1528.3 C1211.9,1518.3 1212.6,1510 1213.3,1498.4 C1214,1486.8 1214.3,1471.9 1214.3,1458.8 C1214.3,1445.7 1212.5,1428.5 1213.3,1419.9 C1214.1,1411.3 1216.1,1410.7 1219.2,1407.2 C1222.4,1403.8 1227.4,1400.4 1232.1,1399.1 C1236.8,1397.8 1243.3,1398.2 1247.7,1399.5 C1252.1,1400.8 1256.2,1403.6 1258.5,1406.9 C1260.8,1410.2 1261.6,1413.5 1261.7,1419.6 C1261.8,1425.7 1259.3,1439.6 1258.8,1443.6"/>
<ellipse cx="1230.8" cy="1617.6" rx="36.7" ry="40.8"/>
<ellipse cx="1227.7" cy="1614" rx="25.4" ry="26.7"/>
<path d="M1197,1607 C1205,1590 1225,1584 1240,1590"/>
<ellipse cx="1239.4" cy="1427" rx="16.6" ry="17.5"/>
<ellipse cx="1238.6" cy="1427" rx="8.5" ry="10"/>
<ellipse cx="1079.3" cy="1722.8" rx="16.8" ry="16.8"/>
<ellipse cx="1079.3" cy="1722.8" rx="8.8" ry="8.8"/>
<ellipse cx="1378.9" cy="1702.6" rx="16.5" ry="16.5"/>
<ellipse cx="1378.9" cy="1702.6" rx="8.9" ry="8.9"/>
<path d="M1227.8,1456.3 L1247,1456.3 L1243.1,1558.7 L1225.9,1558.7 Z"/>
<path d="M1099,1697.5 L1180.3,1642.1 L1189.6,1657.6 L1107.3,1714 Z"/>
<path d="M1281.9,1635.9 L1359.8,1681.1 L1350,1698.4 L1273.6,1651.8 Z"/>
<path d="M1183.5,1568.9 L1207.8,1584 L1189.6,1614.3 L1165.4,1600.2 L1183.5,1568.9 Z" fill="#fff"/>
<path d="M1180,1580 L1200,1592"/>
<path d="M1172,1592 L1177,1584"/>
<path d="M1175,1595 L1180,1587"/>
<path d="M1168,1598 L1186,1609"/>
<ellipse cx="1203" cy="1596" rx="4.5" ry="10.5" transform="rotate(25 1203 1596)"/>
<ellipse cx="1203" cy="1596" rx="2.2" ry="7" transform="rotate(25 1203 1596)"/>
</g>
</svg>
</body></html>
